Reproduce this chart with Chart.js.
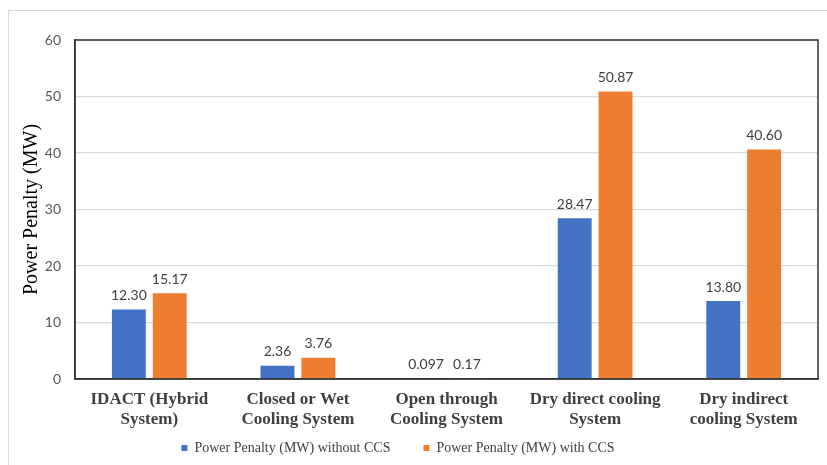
<!DOCTYPE html>
<html>
<head>
<meta charset="utf-8">
<script src="https://cdn.jsdelivr.net/npm/chart.js@4/dist/chart.umd.min.js"></script>
<style>
  html, body { margin: 0; padding: 0; background: #ffffff; }
  #wrap { position: relative; width: 827px; height: 465px; overflow: hidden; }
  #frame { position: absolute; left: 8px; top: 10px; width: 840px; height: 480px;
           border: 1.5px solid #d9d9d9; box-sizing: border-box; }
  canvas { position: absolute; left: 0; top: 0; }
</style>
</head>
<body>
<div id="wrap">
  <div id="frame"></div>
  <canvas id="chart" width="827" height="465"></canvas>
</div>
<script>
// Cooling system categories (two-line axis labels)
const categories = [
  ['IDACT (Hybrid', 'System)'],
  ['Closed or Wet', 'Cooling System'],
  ['Open through', 'Cooling System'],
  ['Dry direct cooling', 'System'],
  ['Dry indirect', 'cooling System']
];
const withoutCCS = [12.30, 2.36, 0.097, 28.47, 13.80];
const withCCS = [15.17, 3.76, 0.17, 50.87, 40.60];
const yTicks = [0, 10, 20, 30, 40, 50, 60];

const seriesNames = ['Power Penalty (MW) without CCS', 'Power Penalty (MW) with CCS'];

const SERIF = '"Liberation Serif", "Times New Roman", serif';

// Two decimals unless the value carries more precision (e.g. 0.097)
function fmt(v) {
  const two = v.toFixed(2);
  return Number(two) === v ? two : String(v);
}

const valueLabels = {
  id: 'valueLabels',
  afterLayout(chart) {
    // nudge the legend slightly left of the canvas centre
    if (chart.legend) {
      chart.legend.left -= 11;
      chart.legend.right -= 11;
    }
    // let the two-line category labels extend over the legend band
    const x = chart.scales.x;
    x.bottom = x.top + 60;
  },
  afterDatasetsDraw(chart) {
    const ctx = chart.ctx;
    ctx.save();
    ctx.font = '14px Lato, "Open Sans", sans-serif';
    ctx.fillStyle = '#404040';
    ctx.textAlign = 'center';
    ctx.textBaseline = 'bottom';
    chart.data.datasets.forEach((ds, i) => {
      chart.getDatasetMeta(i).data.forEach((bar, j) => {
        ctx.fillText(fmt(ds.data[j]), bar.x, bar.y - 7);
      });
    });
    ctx.restore();
  },
  afterDraw(chart) {
    // dark box around the plot area
    const a = chart.chartArea;
    const ctx = chart.ctx;
    ctx.save();
    ctx.strokeStyle = '#333333';
    ctx.lineWidth = 1.5;
    ctx.strokeRect(a.left, a.top, a.right - a.left, a.bottom - a.top);
    ctx.restore();
  }
};

new Chart(document.getElementById('chart'), {
  type: 'bar',
  data: {
    labels: categories,
    datasets: [
      { label: seriesNames[0], data: withoutCCS, backgroundColor: '#4472C4' },
      { label: seriesNames[1], data: withCCS, backgroundColor: '#ED7D31' }
    ]
  },
  options: {
    responsive: false,
    animation: false,
    devicePixelRatio: 1,
    categoryPercentage: 0.55,
    barPercentage: 0.83,
    layout: { padding: { top: 40, right: 9, left: 0, bottom: 0 } },
    plugins: {
      tooltip: { enabled: false },
      legend: {
        position: 'bottom',
        labels: {
          boxWidth: 6, boxHeight: 6, padding: 33,
          color: '#404040',
          font: { family: SERIF, size: 14 }
        }
      }
    },
    scales: {
      x: {
        grid: { display: false, drawTicks: false },
        border: { display: true, color: '#333333', width: 1.5 },
        ticks: {
          color: '#404040',
          padding: 11,
          maxRotation: 0,
          autoSkip: false,
          font: { family: SERIF, size: 17, weight: 'bold', lineHeight: 1.18 }
        },
        afterFit(scale) { scale.height = 29; }
      },
      y: {
        min: 0, max: 60,
        afterBuildTicks(scale) { scale.ticks = yTicks.map(v => ({ value: v })); },
        afterFit(scale) { scale.width = 75; },
        grid: { color: '#d9d9d9', lineWidth: 1.2, drawTicks: false },
        border: { display: true, color: '#333333', width: 1.5 },
        ticks: {
          color: '#595959',
          padding: 14,
          font: { family: 'Lato, "Open Sans", sans-serif', size: 14 }
        },
        title: {
          display: true,
          text: 'Power Penalty (MW)',
          color: '#000000',
          padding: { top: 20, bottom: 0 },
          font: { family: SERIF, size: 20 }
        }
      }
    }
  },
  plugins: [valueLabels]
});
</script>
</body>
</html>
